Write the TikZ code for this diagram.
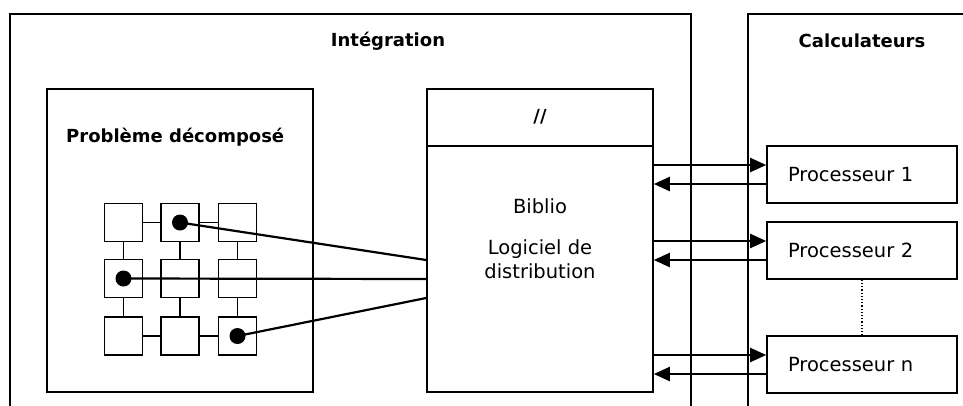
\documentclass[tikz,border=0pt]{standalone}
\usepackage{fontspec}
\setmainfont{DejaVu Sans}
\usetikzlibrary{calc,arrows.meta,positioning}
\begin{document}
\begin{tikzpicture}[x=1pt,y=-1pt,
  frame/.style={line width=1.6pt},
  box/.style={draw,line width=1.6pt,rectangle,inner sep=0pt},
  cell/.style={box,minimum width=38pt,minimum height=38pt},
  dot/.style={circle,fill=black,inner sep=0pt,minimum size=16pt},
  link/.style={line width=2.2pt},
  arr/.style={line width=2.2pt,-{Triangle[length=16pt,width=14pt]}},
  title/.style={font=\bfseries\fontsize{18}{21}\selectfont,inner sep=0pt},
  txt/.style={font=\fontsize{19.5}{22}\selectfont,inner sep=0pt},
  proc/.style={box,minimum width=190pt,minimum height=57pt,font=\fontsize{19.5}{22}\selectfont,
    text width=148pt,align=left,inner xsep=21pt}
]
\useasboundingbox (0,0) rectangle (963,405);
\fill[white] (0,0) rectangle (963,405);

% outer frames (open at bottom / right)
\draw[frame] (10,410) -- (10,14) -- (691,14) -- (691,410);
\draw[frame] (748,410) -- (748,14) -- (970,14);
\node[title] (tint) at (388,41) {Intégration};
\node[title] (tcalc) at (862,41) {Calculateurs};

% decomposed problem
\node[box,minimum width=266pt,minimum height=303pt] (prob) at (180,240.5) {};
\node[title,anchor=west] (tprob) at (66,137) {Problème décomposé};

% grid
\foreach \i/\y in {1/222.5,2/278.5,3/336}{
  \foreach \j/\x in {1/123.5,2/180,3/237.5}{
    \node[cell] (c\i\j) at (\x,\y) {};
  }
}
\foreach \a/\b in {c11/c12,c12/c13,c31/c32,c32/c33}{
  \draw[line width=1.6pt] (\a.east) -- (\b.west);
}
\foreach \a/\b in {c11/c21,c21/c31,c12/c22,c22/c32,c13/c23,c23/c33}{
  \draw[line width=1.6pt] (\a.south) -- (\b.north);
}

% library box
\node[box,minimum width=226pt,minimum height=57pt] (bhead) at (540,117.5) {};
\node[box,minimum width=226pt,minimum height=246pt] (bbody) at (540,269) {};
\node[title] (slash) at (540,117) {//};
\node[txt] (tbib) at (540,206) {Biblio};
\node[txt] (tlog) at (540,249) {Logiciel de};
\node[txt] (tdist) at (540,271) {distribution};

% dots and links
\node[dot] (d12) at (c12.center) {};
\node[dot] (d21) at (c21.center) {};
\node[dot] (d33) at (c33.center) {};
\coordinate (e1) at ($(bbody.west)+(0,-9)$);
\coordinate (e2) at ($(bbody.west)+(0,10)$);
\coordinate (e3) at ($(bbody.west)+(0,29)$);
\draw[link] (d12.center) -- (e1);
\draw[link] (d21.center) -- (e2);
\draw[link] (d33.center) -- (e3);

% processors
\node[proc] (p1) at (862,174.5) {Processeur 1};
\node[proc] (p2) at (862,250.5) {Processeur 2};
\node[proc] (pn) at (862,364.5) {Processeur n};
\draw[line width=1.2pt,dotted] (p2.south) -- (pn.north);

\foreach \p in {p1,p2,pn}{
  \coordinate (\p a) at ($(\p.west)+(0,-9.5)$);
  \coordinate (\p b) at ($(\p.west)+(0,9.5)$);
  \draw[arr] (bbody.east |- \p a) -- (\p a);
  \draw[arr] (\p b) -- (bbody.east |- \p b);
}
\end{tikzpicture}
\end{document}
